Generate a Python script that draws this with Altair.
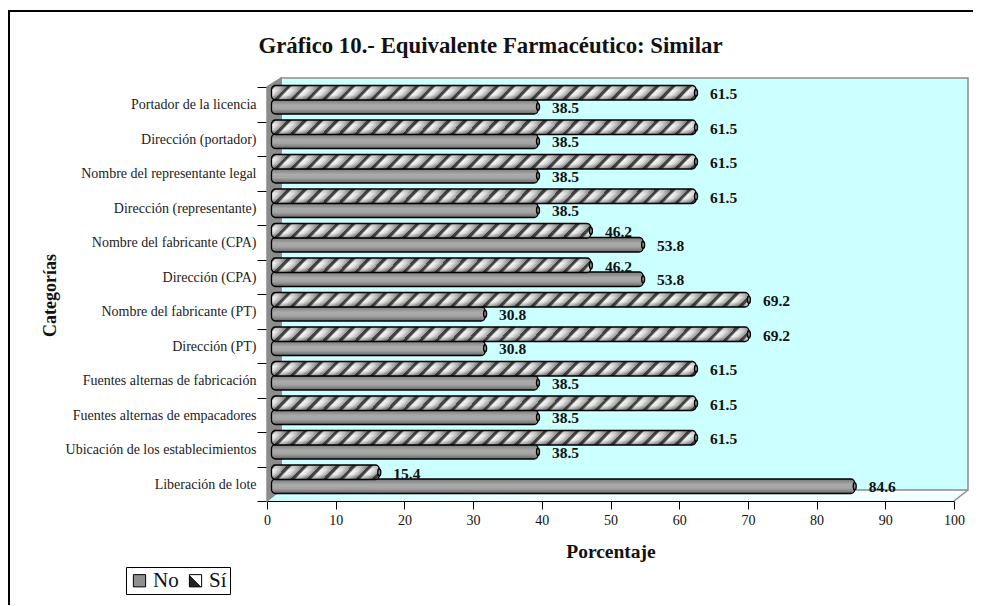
import altair as alt
import pandas as pd

categorias = ["Portador de la licencia", "Dirección (portador)", "Nombre del representante legal",
              "Dirección (representante)", "Nombre del fabricante (CPA)", "Dirección (CPA)",
              "Nombre del fabricante (PT)", "Dirección (PT)", "Fuentes alternas de fabricación",
              "Fuentes alternas de  empacadores", "Ubicación de los establecimientos", "Liberación de lote"]
si = [61.5, 61.5, 61.5, 61.5, 46.2, 46.2, 69.2, 69.2, 61.5, 61.5, 61.5, 15.4]
no = [38.5, 38.5, 38.5, 38.5, 53.8, 53.8, 30.8, 30.8, 38.5, 38.5, 38.5, 84.6]
x_ticks = list(range(0, 101, 10))

W, H = 687, 414
PX = W / 100
SHIFT = 6.5 / PX
FONT = "Liberation Serif"

df = pd.DataFrame({"cat": categorias, "si": si, "no": no})
df["si_txt"] = df.si.map(lambda v: f"{v:.1f}")
df["no_txt"] = df.no.map(lambda v: f"{v:.1f}")

x_bar = alt.Scale(domain=[-SHIFT, 100 - SHIFT], nice=False, zero=False)
y_band = alt.Scale(domain=categorias, paddingInner=0, paddingOuter=0)
Y = alt.Y("cat:N", scale=y_band, axis=None)
frame_x = alt.Scale(domain=[0, 100], nice=False, zero=False)
frame_y = alt.Scale(domain=[0, 100], nice=False, zero=False)


def stripes(width, period=16.0):
    """Diagonal stripe gradient whose stripes stay at 45 degrees for a bar of this size."""
    width = width + 2
    stops = []
    n = int(width / period) + 2
    total = n * period
    for i in range(n):
        for off, col in [(0.0, "#444444"), (0.20, "#444444"), (0.34, "#f6f6f6"), (0.60, "#e2e2e2"), (1.0, "#9a9a9a")]:
            stops.append({"offset": (i + off) / n, "color": col})
    a = total / width
    return alt.LinearGradient(gradient="linear", x1=0, y1=0, x2=a, y2=a * 14 / width, stops=stops)


GRAD_NO = alt.LinearGradient(gradient="linear", x1=0, y1=0, x2=0, y2=1, stops=[
    {"offset": 0, "color": "#777777"}, {"offset": 0.4, "color": "#ababab"},
    {"offset": 0.65, "color": "#a4a4a4"}, {"offset": 1, "color": "#666666"}])
SHADE = alt.LinearGradient(gradient="linear", x1=0, y1=0, x2=0, y2=1, stops=[
    {"offset": 0, "color": "rgba(0,0,0,0.25)"}, {"offset": 0.35, "color": "rgba(0,0,0,0)"},
    {"offset": 0.65, "color": "rgba(0,0,0,0)"}, {"offset": 1, "color": "rgba(0,0,0,0.35)"}])
GRAD_CAP = alt.LinearGradient(gradient="linear", x1=0, y1=0, x2=0, y2=1, stops=[
    {"offset": 0, "color": "#444444"}, {"offset": 0.5, "color": "#999999"}, {"offset": 1, "color": "#444444"}])
GRAD_FLOOR = alt.LinearGradient(gradient="linear", x1=0, y1=0, x2=1, y2=0, stops=[
    {"offset": 0, "color": "#ccffff"}, {"offset": 0.4, "color": "#f0ffff"}, {"offset": 1, "color": "#f4ffff"}])

ELLIPSE = "M0,-1 C0.55,-1 0.55,1 0,1 C-0.55,1 -0.55,-1 0,-1 Z"

wall = pd.DataFrame({"x": [2.04, 102.04], "y": [102.17, 102.17], "y2": [2.66, 2.66]})
side = pd.DataFrame({"x": [0, 2.04], "y": [100, 102.17], "y2": [0, 2.66]})
floor = pd.DataFrame({"x": [0, 2.04, 100, 102.04], "y": [0, 2.66, 2.66, 2.66], "y2": [0, 0, 0, 2.66]})


def area(data, color, stroke="#8c8c8c"):
    return alt.Chart(data).mark_area(color=color, stroke=stroke, strokeWidth=1.5, clip=False).encode(
        x=alt.X("x:Q", scale=frame_x, axis=None),
        y=alt.Y("y:Q", scale=frame_y, axis=None),
        y2="y2:Q",
    )


layers = [
    alt.Chart(floor).mark_area(fill=GRAD_FLOOR).encode(
        x=alt.X("x:Q", scale=frame_x, axis=None), y=alt.Y("y:Q", scale=frame_y, axis=None), y2="y2:Q"),
    area(wall, "#ccffff"), area(side, "#8c8c8c"),
    alt.Chart(pd.DataFrame({"x": [102.04], "y": [2.66], "xe": [100], "ye": [0]})).mark_rule(
        color="#8c8c8c", strokeWidth=1.5).encode(
        x=alt.X("x:Q", scale=frame_x, axis=None), y=alt.Y("y:Q", scale=frame_y, axis=None),
        x2="xe:Q", y2="ye:Q"),
]

# axes
layers.append(
    alt.Chart(pd.DataFrame({"t": x_ticks})).mark_point(opacity=0).encode(
        x=alt.X("t:Q", scale=frame_x, axis=alt.Axis(
            values=x_ticks, title="Porcentaje", grid=False, tickSize=8, tickColor="black", domainColor="black",
            labelColor="#111", labelFont=FONT, labelFontSize=14, labelPadding=4, format="d", labelFlush=False,
            titleFont=FONT, titleFontSize=19.5, titleFontWeight="bold", titleColor="#111", titlePadding=15)),
    ))
layers.append(
    alt.Chart(df).mark_point(opacity=0).encode(
        y=alt.Y("cat:N", scale=y_band, axis=alt.Axis(
            title="Categorías", grid=False, tickSize=10, tickColor="black", domainColor="black", tickBand="extent",
            labelColor="#222", labelFont=FONT, labelFontSize=14, labelPadding=1, labelLimit=300, labelOffset=0.5,
            titleFont=FONT, titleFontSize=18, titleFontWeight="bold", titleColor="#111",
            titleX=-208, titleY=208)),
    ))

BAR = dict(height=14.5, cornerRadius=4, stroke="black", strokeWidth=1.3, x2Offset=-2)
CAP = dict(shape=ELLIPSE, size=54, filled=True, fill=GRAD_CAP, stroke="black", strokeWidth=1.3, opacity=1)
Y_SI, Y_NO = -11.5, 2.5

# No bars
layers.append(alt.Chart(df).mark_bar(yOffset=Y_NO, fill=GRAD_NO, **BAR).encode(
    x=alt.X("no:Q", scale=x_bar, axis=None), x2=alt.datum(0), y=Y))
layers.append(alt.Chart(df).mark_point(yOffset=Y_NO, **CAP).encode(
    x=alt.X("no:Q", scale=x_bar, axis=None), y=Y))

# Sí bars, one gradient per distinct length
for v in sorted(set(si)):
    sub = df[df.si == v]
    layers.append(alt.Chart(sub).mark_bar(yOffset=Y_SI, fill=stripes(v * PX), **BAR).encode(
        x=alt.X("si:Q", scale=x_bar, axis=None), x2=alt.datum(0), y=Y))
layers.append(alt.Chart(df).mark_bar(yOffset=Y_SI, height=14.5, cornerRadius=4, x2Offset=-2, fill=SHADE).encode(
    x=alt.X("si:Q", scale=x_bar, axis=None), x2=alt.datum(0), y=Y))
layers.append(alt.Chart(df).mark_point(yOffset=Y_SI, **CAP).encode(
    x=alt.X("si:Q", scale=x_bar, axis=None), y=Y))

# value labels
for field, txt, dy in [("si", "si_txt", -10), ("no", "no_txt", 3.5)]:
    layers.append(alt.Chart(df).mark_text(align="left", dx=14, dy=dy, font=FONT, fontSize=15.5, fontWeight="bold",
                                          color="#111").encode(
        x=alt.X(f"{field}:Q", scale=x_bar, axis=None), y=Y, text=f"{txt}:N"))

# legend
SI_SWATCH = ("{gradient:'linear',x1:0,y1:1,x2:1,y2:0,stops:[{offset:0,color:'#222'},{offset:0.5,color:'#222'},"
             "{offset:0.5,color:'#fff'},{offset:1,color:'#fff'}]}")
layers.append(
    alt.Chart(pd.DataFrame({"s": ["No", "Sí"]})).mark_square(size=0, stroke="black", strokeWidth=1).encode(
        color=alt.Color("s:N", scale=alt.Scale(domain=["No", "Sí"], range=["#8f8f8f", {"expr": SI_SWATCH}]),
                        legend=alt.Legend(orient="none", legendX=-141, legendY=480, columns=2, title=None,
                                          strokeColor="black", fillColor="white", padding=3,
                                          labelFont=FONT, labelFontSize=21, labelColor="#111", labelOffset=3,
                                          symbolType="square", symbolSize=150, symbolStrokeColor="black",
                                          symbolStrokeWidth=1, symbolOpacity=1, columnPadding=6)),
    ))

# page frame
layers.append(alt.Chart(pd.DataFrame({"a": [0]})).mark_rule(color="black", strokeWidth=2).encode(
    x=alt.value(-259), x2=alt.value(706), y=alt.value(-76)))
layers.append(alt.Chart(pd.DataFrame({"a": [0]})).mark_rule(color="black", strokeWidth=2).encode(
    x=alt.value(-258), y=alt.value(-76), y2=alt.value(520)))

chart = alt.layer(*layers).resolve_scale(x="independent", y="independent", color="independent").properties(
    width=W, height=H,
    autosize=alt.AutoSizeParams(type="none"),
    padding={"left": 259, "top": 79, "right": 19, "bottom": 104},
    title=alt.TitleParams("Gráfico 10.- Equivalente Farmacéutico: Similar", font=FONT, fontSize=22.8, fontWeight="bold",
                          color="#111", anchor="middle", dx=-120, offset=-48),
).configure_view(stroke=None)

chart.save("out.html", embed_options={"renderer": "svg", "actions": False})
